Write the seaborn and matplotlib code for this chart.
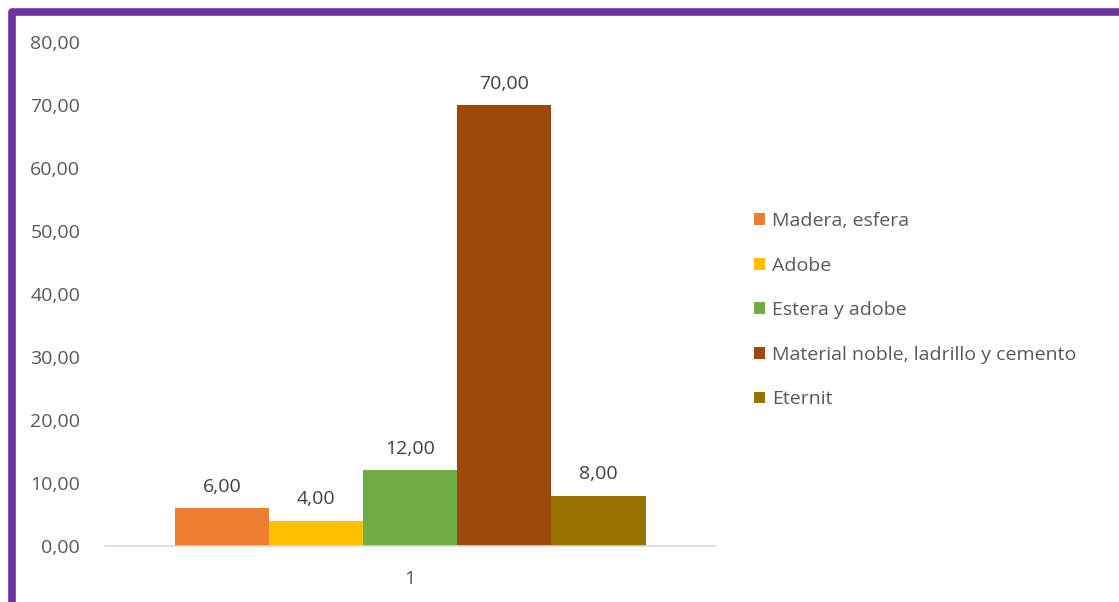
import pandas as pd
import matplotlib.pyplot as plt
import seaborn as sns
from matplotlib.patches import Rectangle
from matplotlib.ticker import FuncFormatter

# data
materials = ["Madera, esfera", "Adobe", "Estera y adobe",
             "Material noble, ladrillo y cemento", "Eternit"]
values = [6.00, 4.00, 12.00, 70.00, 8.00]
category = ["1", "1", "1", "1", "1"]
colors = ["#ED7D31", "#FFC000", "#70AD47", "#9E480E", "#997300"]

df = pd.DataFrame({"Grupo": category, "Material": materials, "Valor": values})

sns.set_style("white")
plt.rcParams["font.family"] = ["Open Sans", "DejaVu Sans"]

fig = plt.figure(figsize=(11.19, 6.02), dpi=100)
ax = fig.add_axes([0.094, 0.093, 0.545, 0.837])

sns.barplot(data=df, x="Grupo", y="Valor", hue="Material", hue_order=materials,
            palette=colors, width=0.772, saturation=1, linewidth=0, ax=ax)

# value labels with comma decimals
for cont in ax.containers:
    ax.bar_label(cont, labels=[f"{v:.2f}".replace(".", ",") for v in cont.datavalues],
                 padding=9, fontsize=14, color="#404040")

ax.set_ylim(0, 80)
ax.set_xlim(-0.5, 0.5)
ax.set_yticks(range(0, 81, 10))
ax.yaxis.set_major_formatter(FuncFormatter(lambda v, p: f"{v:.2f}".replace(".", ",")))
ax.tick_params(axis="both", colors="#595959", labelsize=14, length=0)
ax.tick_params(axis="y", pad=18)
ax.tick_params(axis="x", pad=17)
ax.set_xlabel("")
ax.set_ylabel("")
for s in ["top", "right", "left"]:
    ax.spines[s].set_visible(False)
ax.spines["bottom"].set_color("#D9D9D9")
ax.spines["bottom"].set_linewidth(1.2)

leg = ax.legend(loc="center left", bbox_to_anchor=(1.035, 0.468), frameon=False,
                fontsize=14, handlelength=0.55, handleheight=0.55,
                handletextpad=0.4, labelspacing=1.37)
for t in leg.get_texts():
    t.set_color("#595959")

# purple frame around the chart (right and bottom edges fall outside the picture)
fig.patches.append(Rectangle((0.0103, -0.05), 1.1, 1.03, transform=fig.transFigure,
                             fill=False, edgecolor="#7030A0", linewidth=5.5,
                             joinstyle="round"))

fig.savefig("out.png", dpi=100)
